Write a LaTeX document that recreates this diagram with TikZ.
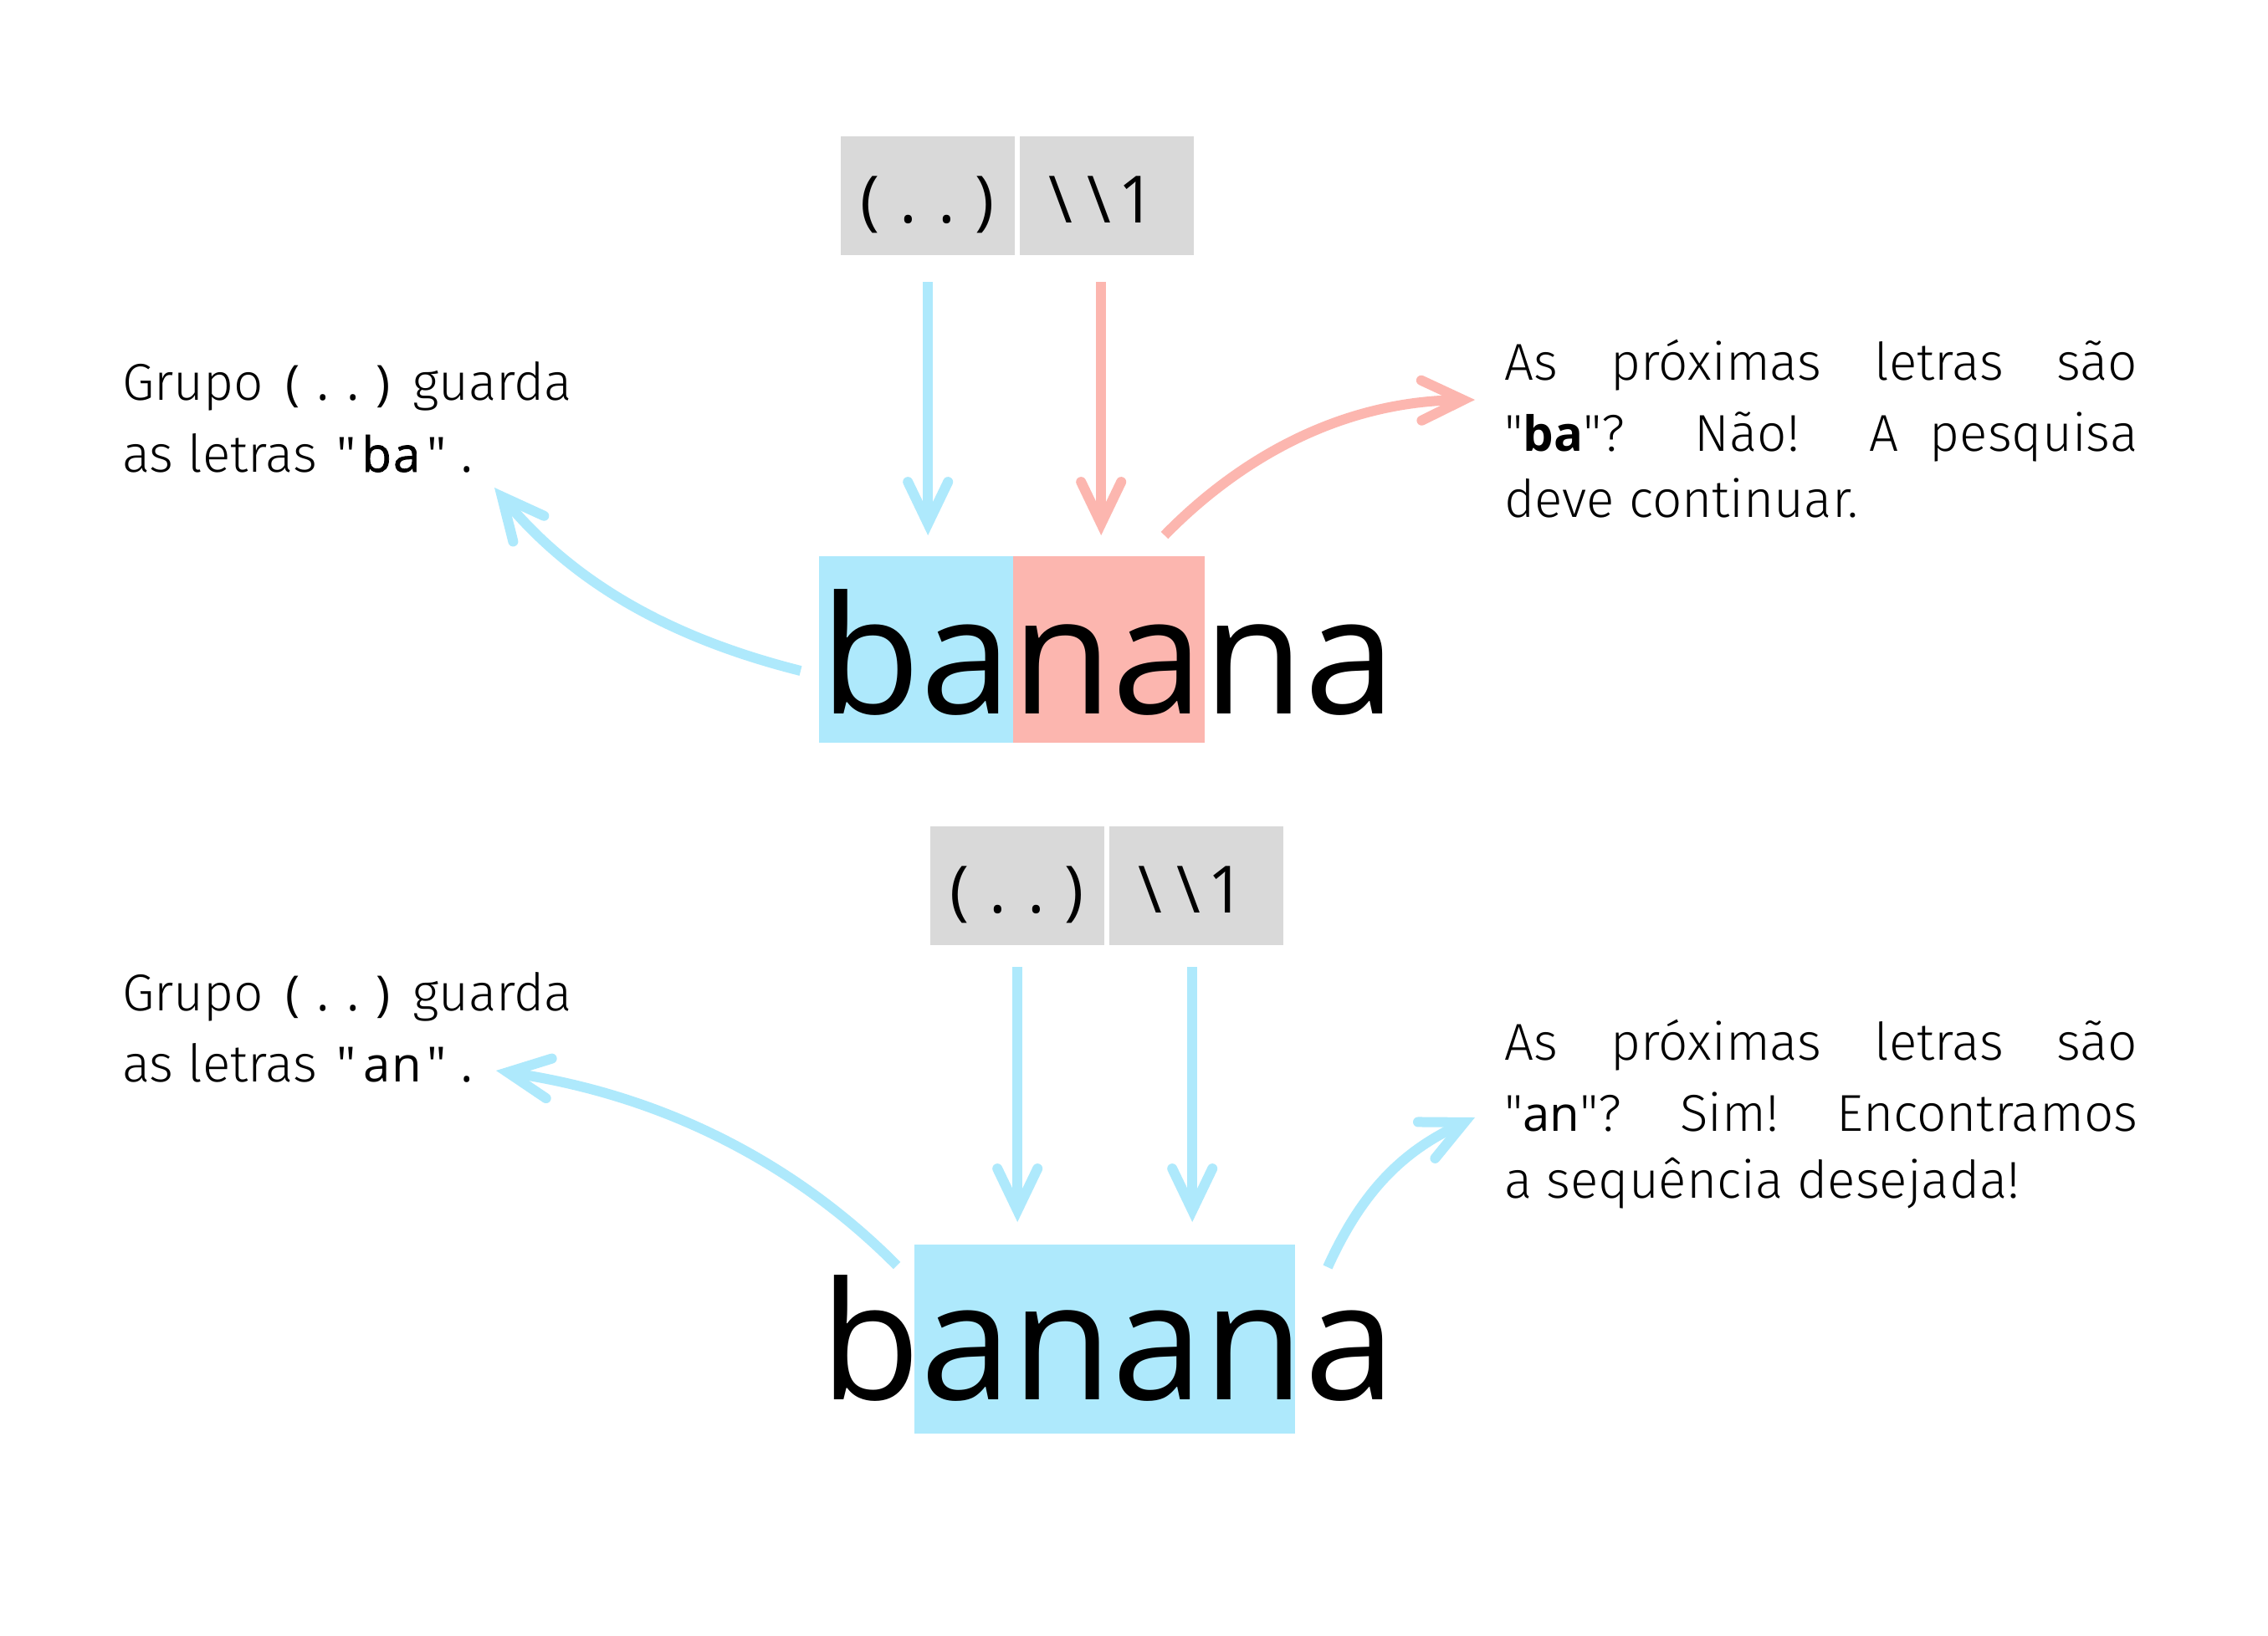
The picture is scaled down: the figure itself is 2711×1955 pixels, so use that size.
\documentclass[tikz,border=0pt]{standalone}
\usepackage{fontspec}
\setmainfont{Open Sans}
\newfontfamily\osfont{Open Sans}
\newfontfamily\osmed[FakeBold=1.2]{Open Sans}
\newfontfamily\lightfont{Fira Sans Light}
\usetikzlibrary{arrows.meta}
\definecolor{cblue}{HTML}{AEE9FC}
\definecolor{cred}{HTML}{FCB6AF}
\definecolor{cgray}{HTML}{D9D9D9}
\newcommand{\mcl}[1]{\makebox[36pt][c]{\osfont\fontsize{58pt}{60pt}\selectfont #1}}
\newcommand{\mclb}[1]{\makebox[36pt][c]{\osmed\fontsize{58pt}{60pt}\selectfont #1}}
\newcommand{\mcb}[1]{\makebox[45.7pt][c]{#1}}
\begin{document}
\begin{tikzpicture}[x=1pt,y=-1pt,
  txt/.style={inner sep=0pt, anchor=base west, font=\lightfont\fontsize{62pt}{70pt}\selectfont},
  graybox/.style={fill=cgray, inner sep=0pt, minimum width=208pt, minimum height=142pt, anchor=north west},
  lab/.style={inner sep=0pt, anchor=base, font=\osfont\fontsize{78pt}{80pt}\selectfont},
  hl/.style={inner sep=0pt, anchor=north west},
  word/.style={inner sep=0pt, anchor=base west, font=\osfont\fontsize{196pt}{200pt}\selectfont},
  arr/.style={line width=12pt, -{Straight Barb[length=50pt,width=48pt,line cap=round]}}
]
\fill[white] (0,0) rectangle (2711,1955);
\path[use as bounding box] (0,0) rectangle (2711,1955);

% ---------- top ----------
\node[graybox] (b1) at (1005,163) {};
\node[graybox] (b2) at (1219,163) {};
\node[lab] (l1) at (1109,266) {\mcb{(}\mcb{.}\mcb{.}\mcb{)}};
\node[lab] (l2) at (1313.5,266) {\mcb{\textbackslash}\mcb{\textbackslash}\mcb{1}};

\node[hl, fill=cblue, minimum width=232pt, minimum height=223pt] (r1) at (979,665) {};
\node[hl, fill=cred, minimum width=229pt, minimum height=223pt] (r2) at (1211,665) {};
\node[word] (w1) at (980,853) {banana};

\draw[arr, cblue] ([yshift=-32pt]b1.south) -- ([yshift=25pt]b1.south |- r1.north);
\draw[arr, cred] ([xshift=-7pt,yshift=-32pt]b2.south) -- ([xshift=-7pt,yshift=25pt]b2.south |- r1.north);

\node[txt] (t1a) at (146,478) {Grupo \mcl{(}\mcl{.}\mcl{.}\mcl{)} guarda};
\node[txt] (t1b) at (146,564) {as letras \mcl{"}\mclb{b}\mclb{a}\mcl{"}\mcl{.}};

\node[txt] (t2a) at (1798,454) {\makebox[757pt][s]{As próximas letras são}};
\node[txt] (t2b) at (1798,539) {\makebox[757pt][s]{"{\osfont\bfseries\fontsize{58pt}{60pt}\selectfont ba}"? Não! A pesquisa}};
\node[txt] (t2c) at (1798,618) {deve continuar.};

\coordinate (c1s) at (957,802);
\coordinate (c1e) at (591,583);
\draw[arr, cblue] (c1s) .. controls (790,760) and (680,690) .. (c1e);
\coordinate (c2s) at (1392,640);
\coordinate (c2e) at (1763,478);
\draw[arr, cred] (c2s) .. controls (1470,560) and (1590,480) .. (c2e);

% ---------- bottom ----------
\node[graybox] (b3) at (1112,988) {};
\node[graybox] (b4) at (1326,988) {};
\node[lab] (l3) at (1216,1091) {\mcb{(}\mcb{.}\mcb{.}\mcb{)}};
\node[lab] (l4) at (1420.5,1091) {\mcb{\textbackslash}\mcb{\textbackslash}\mcb{1}};

\node[hl, fill=cblue, minimum width=455pt, minimum height=226pt] (r3) at (1093,1488) {};
\node[word] (w2) at (980,1673) {banana};

\draw[arr, cblue] ([yshift=-26pt]b3.south) -- ([yshift=27pt]b3.south |- r3.north);
\draw[arr, cblue] ([xshift=-5pt,yshift=-26pt]b4.south) -- ([xshift=-5pt,yshift=27pt]b4.south |- r3.north);

\node[txt] (t3a) at (146,1208) {Grupo \mcl{(}\mcl{.}\mcl{.}\mcl{)} guarda};
\node[txt] (t3b) at (146,1293) {as letras \mcl{"}\mcl{a}\mcl{n}\mcl{"}\mcl{.}};

\node[txt] (t4a) at (1798,1267) {\makebox[757pt][s]{As próximas letras são}};
\node[txt] (t4b) at (1798,1352) {\makebox[757pt][s]{"{\osfont\fontsize{58pt}{60pt}\selectfont an}"? Sim! Encontramos}};
\node[txt] (t4c) at (1798,1432) {a sequência desejada!};

\coordinate (c3s) at (1072,1513);
\coordinate (c3e) at (593,1280);
\draw[arr, cblue] (c3s) .. controls (980,1420) and (830,1315) .. (c3e);
\coordinate (c4s) at (1587,1515);
\coordinate (c4e) at (1763,1336);
\draw[arr, cblue] (c4s) .. controls (1630,1420) and (1680,1375) .. (c4e);
\end{tikzpicture}
\end{document}
